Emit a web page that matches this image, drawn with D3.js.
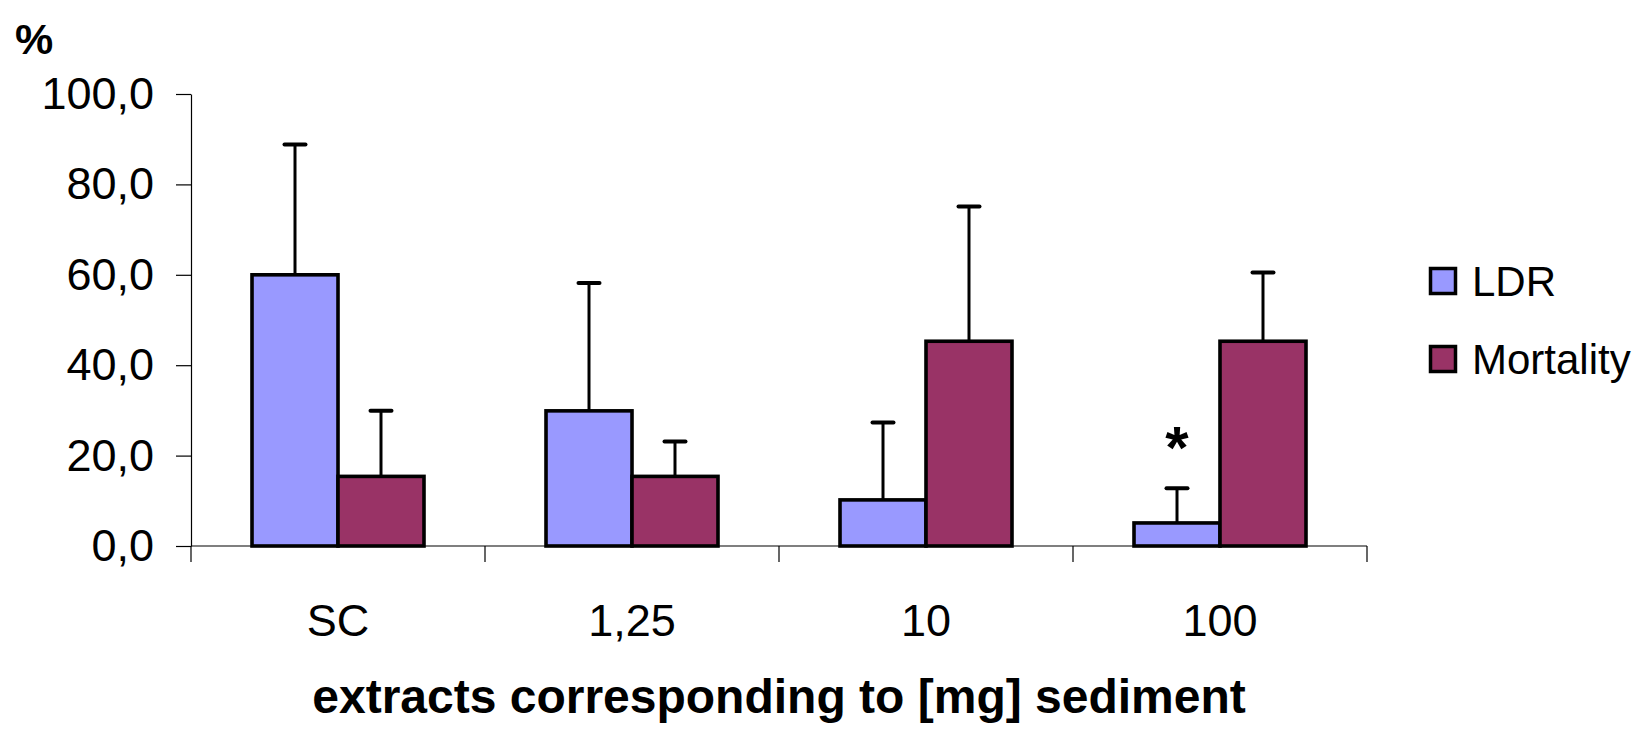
<!DOCTYPE html>
<html>
  <head>
    <title>LDR and Mortality</title>
    <script src="https://d3js.org/d3.v7.min.js"></script>
    <style>
      body { margin: 0; background: #fff; }
      svg text { font-family: "Liberation Sans", Arial, sans-serif; fill: #000; }
      .axis .domain, .axis .tick line { stroke: #000; stroke-width: 1.2px; }
      .axis .tick text { font-size: 45px; }
      .axis__label { font-size: 48px; font-weight: bold; text-anchor: middle; }
      .unit { font-size: 43px; font-weight: bold; }
      .legend text { font-size: 42px; }
    </style>
  </head>
  <body>
    <svg width="1640" height="731"></svg>
    <script>
      // values
      const categories = ["SC", "1,25", "10", "100"];
      const series = ["LDR", "Mortality"];
      const ldr = [60.0, 29.9, 10.2, 5.1];
      const ldrSd = [28.8, 28.3, 17.1, 7.7];
      const mortality = [15.4, 15.4, 45.3, 45.3];
      const mortalitySd = [14.5, 7.7, 29.8, 15.2];
      const yTicks = [0, 20, 40, 60, 80, 100];
      const marked = [false, false, false, true]; // LDR significance star

      const colors = ["#9999ff", "#993366"];
      const margin = {top: 94, right: 273, bottom: 185, left: 191};

      const svg = d3.select("svg");
      const width = +svg.attr("width");
      const height = +svg.attr("height");
      const innerWidth = width - margin.left - margin.right;
      const innerHeight = height - margin.top - margin.bottom;

      const xScale = d3.scaleBand()
        .domain(categories)
        .range([0, innerWidth]);
      const groupWidth = xScale.bandwidth() * 0.585;
      const subScale = d3.scaleBand()
        .domain(series)
        .range([(xScale.bandwidth() - groupWidth) / 2, (xScale.bandwidth() + groupWidth) / 2]);
      const yScale = d3.scaleLinear()
        .domain([0, 100])
        .range([innerHeight, 0]);

      const g = svg.append("g")
          .attr("transform", `translate(${margin.left}, ${margin.top})`);

      // y axis
      const yAxisG = g.append("g")
          .attr("class", "axis")
          .call(d3.axisLeft(yScale)
            .tickValues(yTicks)
            .tickSizeInner(15)
            .tickSizeOuter(0)
            .tickPadding(22)
            .tickFormat(d => d3.format(".1f")(d).replace(".", ",")));

      // x axis: ticks on category boundaries, labels at band centres
      const xAxisG = g.append("g")
          .attr("class", "axis")
          .attr("transform", `translate(0, ${innerHeight})`);
      xAxisG.append("line")
          .attr("class", "domain")
          .attr("x1", 0).attr("x2", innerWidth);
      const bounds = categories.map(c => xScale(c)).concat([innerWidth]);
      xAxisG.selectAll(".tick")
        .data(bounds)
        .enter().append("g")
          .attr("class", "tick")
        .append("line")
          .attr("x1", d => d).attr("x2", d => d)
          .attr("y1", 0).attr("y2", 16);
      xAxisG.selectAll(".cat")
        .data(categories)
        .enter().append("text")
          .attr("class", "cat")
          .attr("x", d => xScale(d) + xScale.bandwidth() / 2)
          .attr("y", 90)
          .attr("text-anchor", "middle")
          .style("font-size", "45px")
          .text(d => d);

      xAxisG.append("text")
          .attr("class", "axis__label")
          .attr("x", innerWidth / 2)
          .attr("y", 167)
          .text("extracts corresponding to [mg] sediment");

      svg.append("text")
          .attr("class", "unit")
          .attr("x", 15)
          .attr("y", 54)
          .text("%");

      // bars
      const rows = categories.map((c, i) => [
        {cat: c, key: "LDR", value: ldr[i], sd: ldrSd[i], color: colors[0]},
        {cat: c, key: "Mortality", value: mortality[i], sd: mortalitySd[i], color: colors[1]}
      ]).flat();

      const barG = g.append("g");
      const barX = d => xScale(d.cat) + subScale(d.key);

      // error bars (drawn first so the bar outline covers the base)
      const err = barG.selectAll(".err")
        .data(rows)
        .enter().append("g")
          .attr("class", "err");
      err.append("line")
          .attr("x1", d => barX(d) + subScale.bandwidth() / 2)
          .attr("x2", d => barX(d) + subScale.bandwidth() / 2)
          .attr("y1", d => yScale(d.value))
          .attr("y2", d => yScale(d.value + d.sd))
          .attr("stroke", "#000")
          .attr("stroke-width", 3);
      err.append("line")
          .attr("x1", d => barX(d) + subScale.bandwidth() / 2 - 10.5)
          .attr("x2", d => barX(d) + subScale.bandwidth() / 2 + 10.5)
          .attr("y1", d => yScale(d.value + d.sd))
          .attr("y2", d => yScale(d.value + d.sd))
          .attr("stroke", "#000")
          .attr("stroke-width", 4)
          .attr("stroke-linecap", "round");

      barG.selectAll("rect")
        .data(rows)
        .enter().append("rect")
          .attr("x", barX)
          .attr("y", d => yScale(d.value))
          .attr("width", subScale.bandwidth())
          .attr("height", d => yScale(0) - yScale(d.value))
          .attr("fill", d => d.color)
          .attr("stroke", "#000")
          .attr("stroke-width", 3.6);

      // significance marks
      g.selectAll(".star")
        .data(categories.filter((c, i) => marked[i]))
        .enter().append("text")
          .attr("class", "star")
          .attr("x", d => xScale(d) + subScale("LDR") + subScale.bandwidth() / 2)
          .attr("y", d => yScale(ldr[categories.indexOf(d)] + ldrSd[categories.indexOf(d)]) - 20)
          .attr("text-anchor", "middle")
          .style("font-size", "60px")
          .style("font-weight", "bold")
          .text("*");

      // legend
      const legendG = svg.append("g")
          .attr("class", "legend")
          .attr("transform", "translate(1429, 281)");
      const item = legendG.selectAll(".item")
        .data(series)
        .enter().append("g")
          .attr("class", "item")
          .attr("transform", (d, i) => `translate(0, ${i * 78})`);
      item.append("rect")
          .attr("x", 1.5).attr("y", -12.5)
          .attr("width", 25).attr("height", 25)
          .attr("fill", (d, i) => colors[i])
          .attr("stroke", "#000")
          .attr("stroke-width", 3.5);
      item.append("text")
          .attr("x", 43)
          .attr("y", 15)
          .text(d => d);
    </script>
  </body>
</html>
